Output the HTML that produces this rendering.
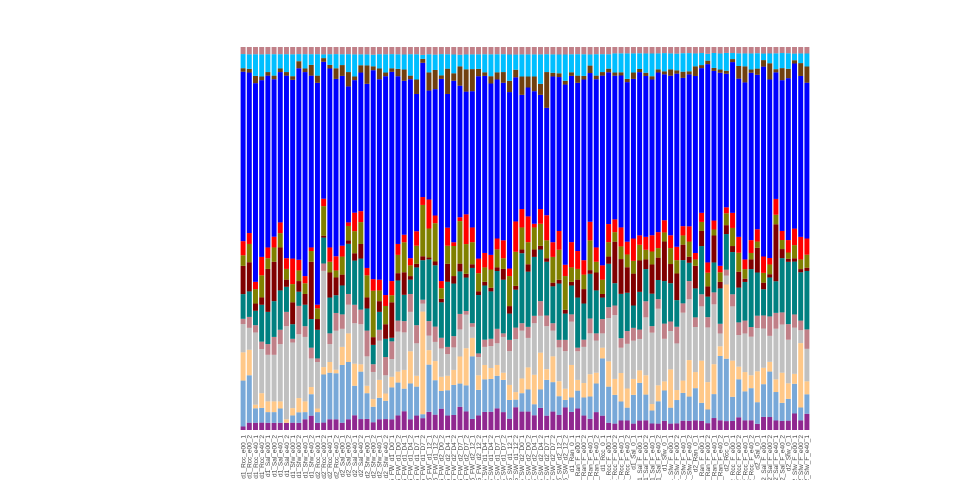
<!DOCTYPE html>
<html><head><meta charset="utf-8"><style>
html,body{margin:0;padding:0;background:#fff;width:960px;height:480px;overflow:hidden}
svg{display:block}
text{font-family:"Liberation Sans",sans-serif;font-size:6.5px;fill:#444}
</style></head><body>
<svg id="chart" width="960" height="480" viewBox="0 0 960 480">
<g id="bars"></g>
<g id="xlabels"></g>
</svg>
<script>
const categories = [
"d1_Rcc_e00_1","d1_Rcc_e00_2","d1_Rcc_e40_1","d1_Rcc_e40_2","d1_Sal_e00_1","d1_Sal_e00_2","d1_Sal_e40_1","d1_Sal_e40_2","d1_Sfw_e00_1","d1_Sfw_e00_2","d1_Sfw_e40_1","d1_Sfw_e40_2",
"d2_Rcc_e00_1","d2_Rcc_e00_2","d2_Rcc_e40_1","d2_Rcc_e40_2","d2_Sal_e00_1","d2_Sal_e00_2","d2_Sal_e40_1","d2_Sal_e40_2","d2_Sfw_e00_1","d2_Sfw_e00_2","d2_Sfw_e40_1","d2_Sfw_e40_2",
"T5_FW_d1_D0_1","T5_FW_d1_D0_2","T5_FW_d1_D4_1","T5_FW_d1_D4_2","T5_FW_d1_D7_1","T5_FW_d1_D7_2","T5_FW_d1_12_1","T5_FW_d1_12_2",
"T5_FW_d2_D0_2","T5_FW_d2_D4_1","T5_FW_d2_D4_2","T5_FW_d2_D7_1","T5_FW_d2_D7_2","T5_FW_d2_12_1","T5_FW_d2_12_2",
"T5_SW_d1_D4_1","T5_SW_d1_D4_2","T5_SW_d1_D7_1","T5_SW_d1_D7_2","T5_SW_d1_12_1","T5_SW_d1_12_2",
"T5_SW_d2_D0_1","T5_SW_d2_D0_2","T5_SW_d2_D4_1","T5_SW_d2_D4_2","T5_SW_d2_D7_1","T5_SW_d2_D7_2","T5_SW_d2_12_1","T5_SW_d2_12_2",
"d1_Ran_0_1","d1_Ran_F_e00_1","d1_Ran_F_e00_2","d1_Ran_F_e40_1","d1_Ran_F_e40_2",
"d1_Rcc_0_1","d1_Rcc_F_e00_1","d1_Rcc_F_e00_2","d1_Rcc_F_e40_1","d1_Rcc_F_e40_2",
"d1_Sal_0_1","d1_Sal_F_e00_1","d1_Sal_F_e00_2","d1_Sal_F_e40_1","d1_Sal_F_e40_2",
"d1_Sfw_0_1","d1_Sfw_F_e00_1","d1_Sfw_F_e00_2","d1_Sfw_F_e40_1","d1_Sfw_F_e40_2",
"d2_Ran_0_1","d2_Ran_F_e00_1","d2_Ran_F_e00_2","d2_Ran_F_e40_1","d2_Ran_F_e40_2",
"d2_Rcc_0_1","d2_Rcc_F_e00_1","d2_Rcc_F_e00_2","d2_Rcc_F_e40_1","d2_Rcc_F_e40_2",
"d2_Sal_0_1","d2_Sal_F_e00_1","d2_Sal_F_e00_2","d2_Sal_F_e40_1","d2_Sal_F_e40_2",
"d2_Sfw_0_1","d2_Sfw_F_e00_1","d2_Sfw_F_e00_2","d2_Sfw_F_e40_1"
];
const botVals = [1,2,2,2,2,2,2,2,2,2, 3,4,2,2,3,3,2,3,4,3, 3,2,3,3,3,4,5,3,4,3, 5,4,6,4,4,6,5,3,4,5, 5,6,5,3,6,5,5,4,6,4, 5,4,6,5,6,4,3,5,4,2, 2,3,3,2,3,3,2,2,3,2, 2,3,3,3,3,2,4,3,3,3, 4,3,3,2,4,4,3,3,3,5, 3,5];
const lightBlueVals = [13,13,4,4,3,3,4,0,2,3, 2,6,3,13,13,13,16,16,8,13, 7,4,6,5,9,9,6,10,8,1, 13,9,5,7,8,6,7,17,7,9, 9,9,9,5,2,5,6,3,5,10, 8,5,2,4,5,5,6,8,16,10, 9,6,4,9,12,8,4,7,10,5, 7,9,8,10,6,4,8,20,21,8, 12,9,10,7,10,14,9,6,7,9, 4,6];
const peachVals = [8,7,1,4,3,3,2,1,2,4, 3,2,1,2,3,1,5,8,6,2, 2,2,5,2,3,3,5,9,3,26, 4,5,4,4,4,7,10,5,4,4, 3,3,2,4,2,4,6,8,10,3, 7,4,3,9,3,4,6,3,3,7, 5,9,6,5,4,6,2,5,3,12, 3,4,12,5,14,8,10,3,25,12, 4,6,4,10,5,3,4,10,5,3, 20,4];
const silverVals = [8,6,20,12,13,13,16,26,18,18, 18,8,13,26,5,11,5,8,11,11, 8,7,11,5,5,11,10,11,9,2, 4,5,8,6,6,7,9,3,5,5, 6,6,10,9,14,13,8,14,10,12, 7,9,10,12,8,10,11,9,4,12, 20,8,14,12,10,18,22,24,14,12, 14,22,20,14,18,16,20,4,3,18, 10,12,12,14,12,8,16,16,14,14, 4,10];
const rosyVals = [1.5,3,2,2,3,5,4,4,1,8, 3,3,1,2,3,5,4,3,5,4, 7,2,3,5,5,3,3,5,5,1, 4,4,3,2,3,4,1,1,1,2, 2,4,1,3,3,2,3,2,4,3, 2,2,3,2,1,2,4,2,4,3, 3,3,4,4,3,5,2,3,5,3, 5,3,6,3,4,3,4,3,2,4, 4,4,3,4,4,6,5,4,5,4, 3,6];
const tealVals = [7,7,4,10,9,10,11,7,4,4, 6,8,8,7,10,5,8,14,12,14, 6,5,5,5,1,11,7,4,16,10, 17,16,10,18,14,11,9,15,16,15, 13,16,15,7,10,19,15,16,14,15, 10,15,7,8,14,10,12,12,6,12, 7,14,12,7,12,10,10,6,14,12, 8,14,6,9,16,6,10,11,12,14, 11,12,18,14,8,12,10,18,20,16, 15,18];
const maroonVals = [8,8,2,2,12,11,12,2,6,3, 3,16,3,0.5,7,5,3,1,2,4, 3,2,3,4,10,2,6,1,1,1, 0.5,1,1,5,2,2,1,1,1,1, 1,1,3,2,1,1,2,2,1,1, 1,1,1,1,5,4,1,5,1,2, 13,11,8,10,10,3,9,7,13,6, 8,5,2,7,5,3,9,2,3,2, 5,1,3,8,2,1,18,3,1,1, 1,1];
const oliveVals = [3,5,4,6,3,4,4,3,5,3, 3,3,3,8,3,2,5,4,6,6, 6,12,3,5,2,5,8,3,5,13, 8,10,3,5,8,11,8,6,5,4, 5,5,3,8,9,6,6,6,6,5, 7,8,9,4,3,4,8,3,4,4, 3,4,4,4,5,3,4,3,3,5, 4,3,5,2,3,4,2,3,4,6, 6,3,2,2,3,3,3,3,2,4, 3,4];
const redVals = [4,3,2,5,3,3,3,3,7,3, 2,1,1,2,4,4,3,1,5,3, 2,3,3,3,4,3,2,2,4,2, 8,2,2,5,1,1,8,4,4,4, 4,3,5,2,8,5,7,1,4,7, 4,5,3,7,5,4,5,4,4,5, 4,6,4,7,3,4,5,5,4,4, 4,3,5,2,3,3,3,2,2,5, 5,3,4,4,5,2,5,3,4,5, 7,5];
const blueVals = [48,44,55,48,48,44,42,51,49,54, 57,48,62,37,50,50,47,38,36,38, 50,54,56,60,59,46,41,50,38,34, 30,33,57,37,43,34,33,37,50,49, 47,44,44,47,38,31,35,36,31,30, 45,41,48,46,47,50,40,47,53,42, 45,48,50,50,52,50,48,50,48,50, 52,48,50,55,48,58,50,60,45,50, 50,55,52,50,58,55,40,50,52,50, 50,48];
const brownVals = [1,1,2,1,1,1,1,1,1,2, 1,3,2,1,1,3,3,4,1,2, 5,1,3,1,1,2,3,1,4,1, 5,5,1,7,2,5,6,6,2,1, 2,2,3,3,2,5,3,4,3,10, 1,1,1,1,2,1,2,1,1,1, 1,1,1,2,1,1,1,1,1,2, 1,2,1,3,1,1,1,1,1,1, 4,5,1,2,2,5,1,4,3,1, 4,5];
const skyVals = [4,4,6,6,5,6,4,5,6,2, 4,3,6,1,3,4,3,5,6,3, 3,3,4,5,4,4,4,6,7,1, 5,4,6,4,5,3,4,4,4,5, 6,5,5,7,4,6,6,6,8,5, 5,5,7,5,6,6,3,6,5,4, 6,6,8,6,5,6,7,5,6,5, 5,6,6,4,4,2,5,5,6,2, 4,4,5,5,2,3,5,5,5,2, 3,4];
const topVals = [2,2,2,2,2,2,2,2,2,2, 2,2,2,2,2,2,2,2,2,2, 2,2,2,2,2,2,2,2,2,2, 2,2,2,2,2,2,2,2,2,2, 2,2,2,2,2,2,2,2,2,2, 2,2,2,2,2,2,2,2,2,2, 2,2,2,2,2,2,2,2,2,2, 2,2,2,2,2,2,2,2,2,2, 2,2,2,2,2,2,2,2,2,2, 2,2];

const seriesList = [
 ["bottom-taxa", botVals, "#902890"],
 ["light-blue-taxon", lightBlueVals, "#78a8d8"],
 ["peach-taxon", peachVals, "#ffc888"],
 ["silver-taxon", silverVals, "#c0c0c0"],
 ["rosy-taxon", rosyVals, "#c08088"],
 ["teal-taxon", tealVals, "#008080"],
 ["maroon-taxon", maroonVals, "#800000"],
 ["olive-taxon", oliveVals, "#808000"],
 ["red-taxon", redVals, "#ff0000"],
 ["blue-taxon", blueVals, "#0000ff"],
 ["brown-taxon", brownVals, "#704010"],
 ["sky-taxon", skyVals, "#00bfff"],
 ["top-taxon", topVals, "#c08088"]
];

const X0 = 240, X1 = 810, Y0 = 430, Y1 = 47;
const n = categories.length;
const pitch = (X1 - X0) / n;
const barW = pitch * 0.8;
function xScale(i){ return X0 + i * pitch + (pitch - barW) / 2; }
function yScale(frac){ return Y0 - frac * (Y0 - Y1); }

const NS = "http://www.w3.org/2000/svg";
const barsG = document.getElementById("bars");
const labG = document.getElementById("xlabels");
for (let i = 0; i < n; i++) {
  let total = 0;
  seriesList.forEach(s => total += (s[1][i] || 0));
  let acc = 0;
  const g = document.createElementNS(NS, "g");
  
  
  seriesList.forEach(s => {
    const v = s[1][i] || 0;
    const yTop = yScale((acc + v) / total);
    const yBot = yScale(acc / total);
    acc += v;
    const r = document.createElementNS(NS, "rect");
    r.setAttribute("x", xScale(i).toFixed(2));
    r.setAttribute("y", yTop.toFixed(2));
    r.setAttribute("width", barW.toFixed(2));
    r.setAttribute("height", Math.max(0, yBot - yTop).toFixed(2));
    r.setAttribute("fill", s[2]);
    
    
    g.appendChild(r);
  });
  barsG.appendChild(g);
  const t = document.createElementNS(NS, "text");
  const cx = xScale(i) + barW / 2 + 2.3;
  t.setAttribute("x", cx.toFixed(2));
  t.setAttribute("y", "435");
  t.setAttribute("text-anchor", "end");
  t.setAttribute("transform", "rotate(-90 " + cx.toFixed(2) + " 435)");
  t.textContent = categories[i];
  
  
  labG.appendChild(t);
}
</script>
</body></html>
